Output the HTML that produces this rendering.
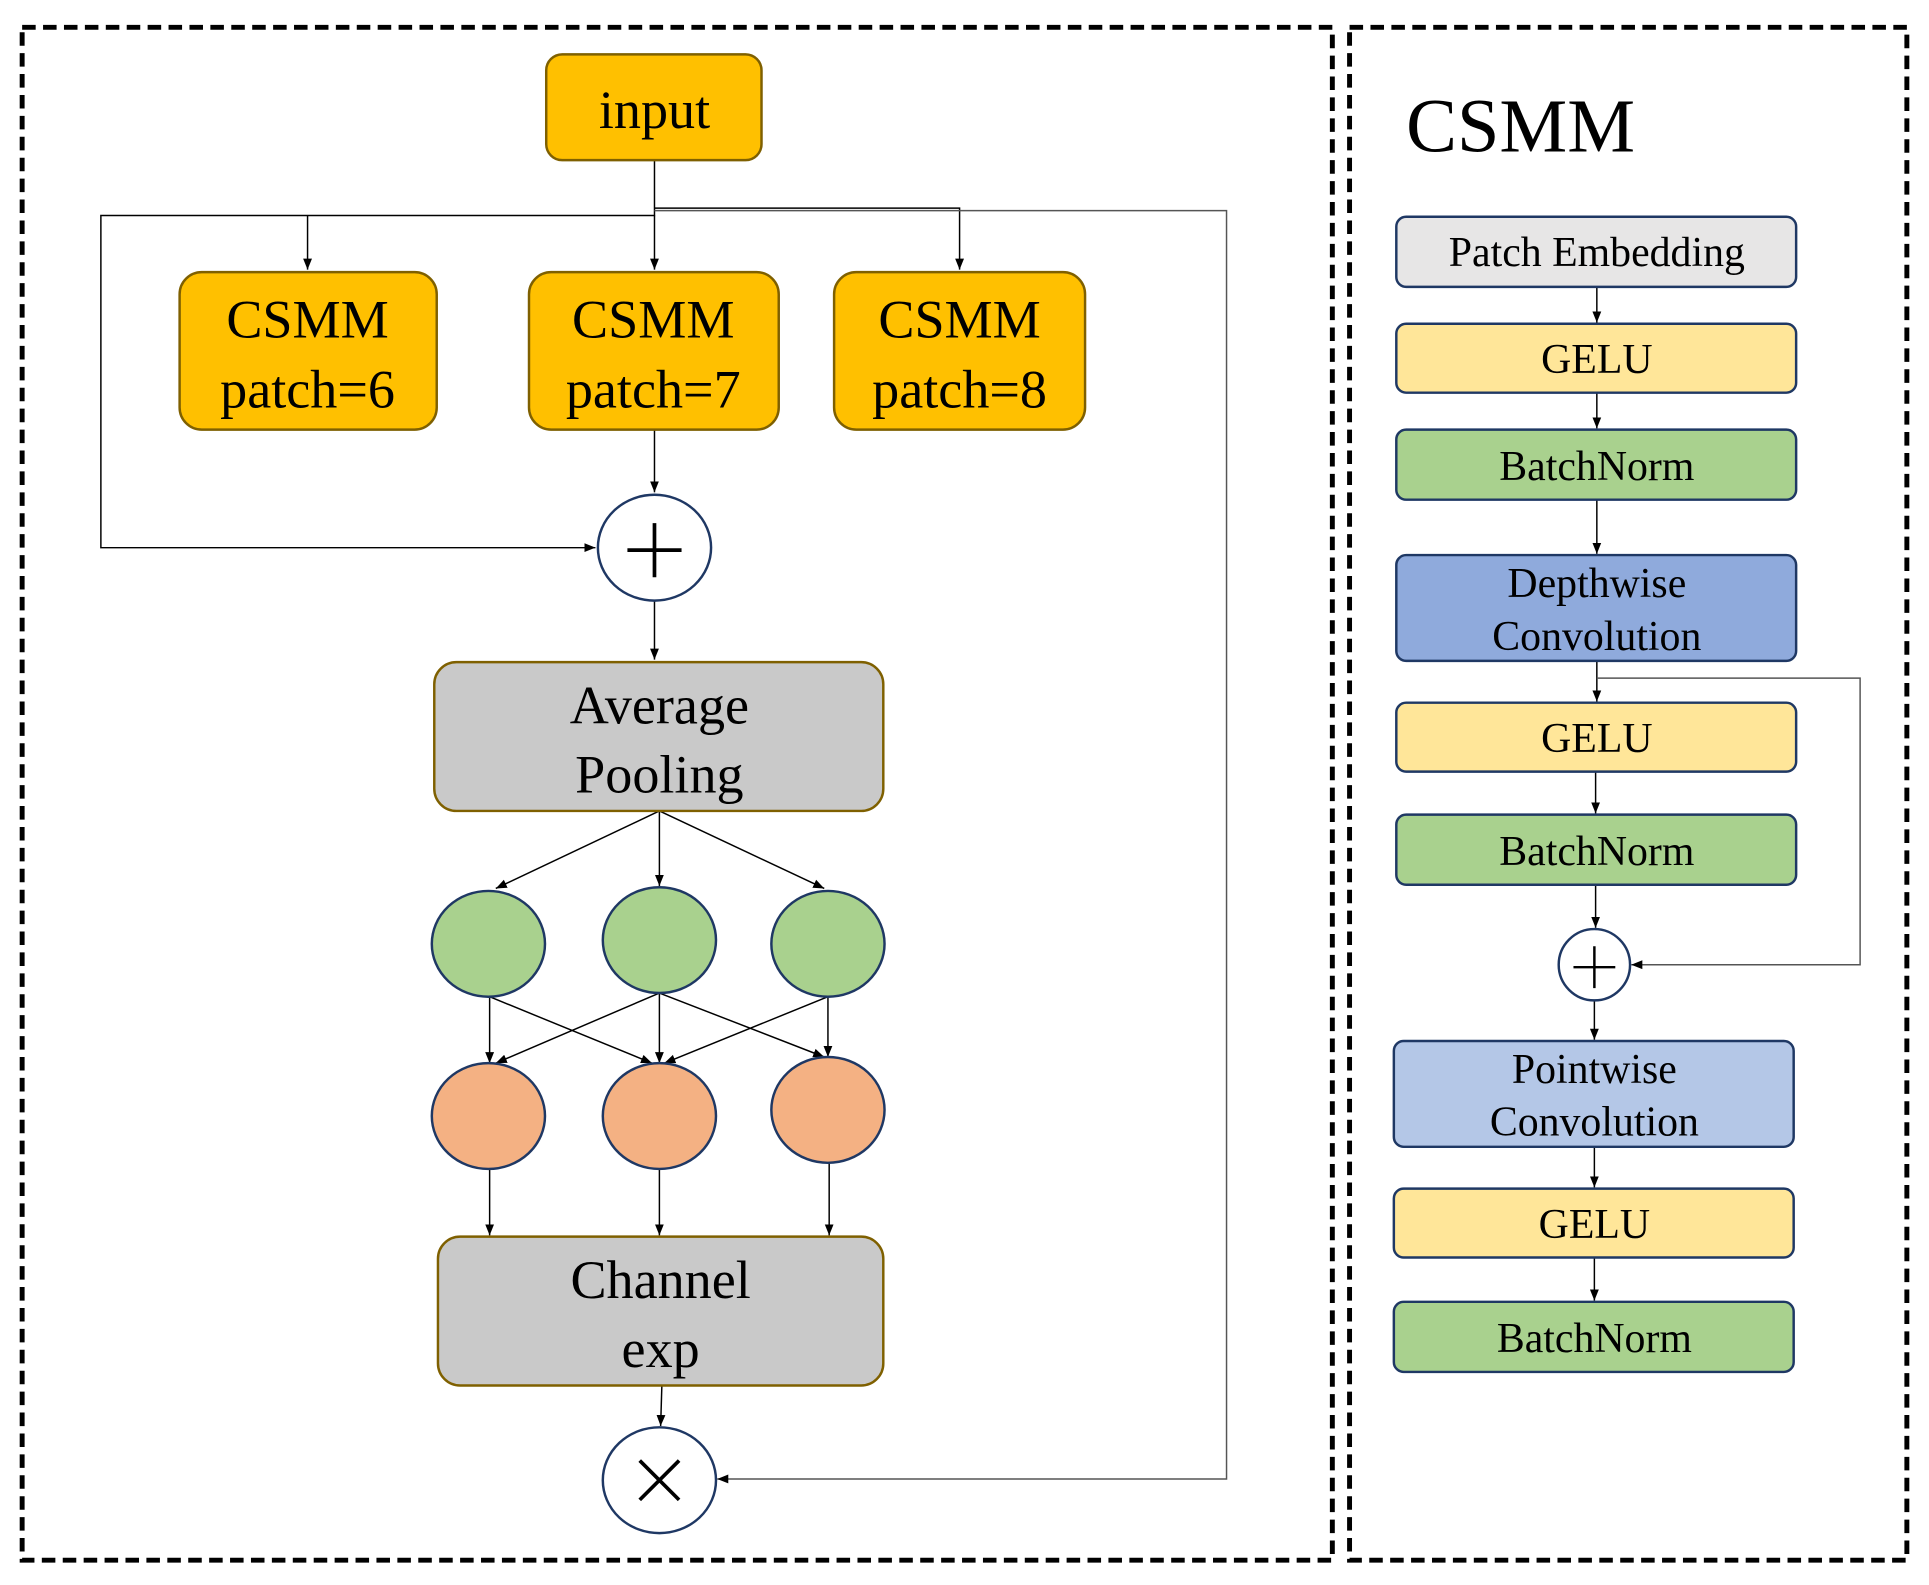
<!DOCTYPE html>
<html><head><meta charset="utf-8"><style>html,body{margin:0;padding:0;background:#fff}svg{display:block}</style></head>
<body>
<svg width="1929" height="1585" viewBox="0 0 1568 1288" xmlns="http://www.w3.org/2000/svg" font-family="'Liberation Serif', serif">
<defs>
<marker id="a" viewBox="0 0 10 10" refX="10" refY="5" markerWidth="9" markerHeight="9" orient="auto-start-reverse" markerUnits="userSpaceOnUse"><path d="M0,1 L10,5 L0,9 z" fill="#000"/></marker>
</defs>
<rect x="18" y="22" width="1065" height="1246" fill="none" stroke="#000" stroke-width="4" stroke-dasharray="11,6"/>
<rect x="1097" y="22" width="453" height="1246" fill="none" stroke="#000" stroke-width="4" stroke-dasharray="11,6"/>
<g stroke="#000" stroke-width="1.2" fill="none">
<path d="M532,130 V175 H82 V445 H484" marker-end="url(#a)"/>
<path d="M532,175 V219" marker-end="url(#a)"/>
<path d="M250,175 V219" marker-end="url(#a)"/>
<path d="M532,169 H780 V219" marker-end="url(#a)"/>
<path d="M532,171 H997 V1202 H583" stroke="#555" marker-end="url(#a)"/>
<path d="M532,349 V400" marker-end="url(#a)"/>
<path d="M532,488 V536" marker-end="url(#a)"/>
<path d="M536,659 L403,722" marker-end="url(#a)"/>
<path d="M536,659 V720" marker-end="url(#a)"/>
<path d="M536,659 L670,722" marker-end="url(#a)"/>
<path d="M398,810 V864" marker-end="url(#a)"/>
<path d="M398,810 L530,864" marker-end="url(#a)"/>
<path d="M536,807 L403,864" marker-end="url(#a)"/>
<path d="M536,807 V864" marker-end="url(#a)"/>
<path d="M536,807 L670,859" marker-end="url(#a)"/>
<path d="M673,810 L540,864" marker-end="url(#a)"/>
<path d="M673,810 V859" marker-end="url(#a)"/>
<path d="M398,950 V1004" marker-end="url(#a)"/>
<path d="M536,950 V1004" marker-end="url(#a)"/>
<path d="M674,945 V1004" marker-end="url(#a)"/>
<path d="M538,1126 L537,1159" marker-end="url(#a)"/>
<path d="M1298,233 V262" marker-end="url(#a)"/>
<path d="M1298,319 V348" marker-end="url(#a)"/>
<path d="M1298,406 V450" marker-end="url(#a)"/>
<path d="M1298,537 V570" marker-end="url(#a)"/>
<path d="M1298,551 H1512 V784 H1326" stroke="#555" marker-end="url(#a)"/>
<path d="M1297,627 V661" marker-end="url(#a)"/>
<path d="M1297,719 V754" marker-end="url(#a)"/>
<path d="M1296,813 V845" marker-end="url(#a)"/>
<path d="M1296,932 V965" marker-end="url(#a)"/>
<path d="M1296,1022 V1057" marker-end="url(#a)"/>
</g>
<g stroke="#7F6000" stroke-width="2">
<rect x="444" y="44" width="175" height="86" rx="13" fill="#FFC000"/>
<rect x="146" y="221" width="209" height="128" rx="18" fill="#FFC000"/>
<rect x="430" y="221" width="203" height="128" rx="18" fill="#FFC000"/>
<rect x="678" y="221" width="204" height="128" rx="18" fill="#FFC000"/>
<rect x="353" y="538" width="365" height="121" rx="18" fill="#C9C9C9"/>
<rect x="356" y="1005" width="362" height="121" rx="18" fill="#C9C9C9"/>
</g>
<g stroke="#1F3864" stroke-width="2">
<ellipse cx="532" cy="445" rx="46" ry="43" fill="#fff"/>
<ellipse cx="536" cy="1203" rx="46" ry="43" fill="#fff"/>
<ellipse cx="397" cy="767" rx="46" ry="43" fill="#A9D18E"/>
<ellipse cx="536" cy="764" rx="46" ry="43" fill="#A9D18E"/>
<ellipse cx="673" cy="767" rx="46" ry="43" fill="#A9D18E"/>
<ellipse cx="397" cy="907" rx="46" ry="43" fill="#F4B183"/>
<ellipse cx="536" cy="907" rx="46" ry="43" fill="#F4B183"/>
<ellipse cx="673" cy="902" rx="46" ry="43" fill="#F4B183"/>
<rect x="1135" y="176" width="325" height="57" rx="8" fill="#E7E6E6"/>
<rect x="1135" y="263" width="325" height="56" rx="8" fill="#FFE699"/>
<rect x="1135" y="349" width="325" height="57" rx="8" fill="#A9D18E"/>
<rect x="1135" y="451" width="325" height="86" rx="8" fill="#8FAADC"/>
<rect x="1135" y="571" width="325" height="56" rx="8" fill="#FFE699"/>
<rect x="1135" y="662" width="325" height="57" rx="8" fill="#A9D18E"/>
<ellipse cx="1296" cy="784" rx="29" ry="29" fill="#fff"/>
<rect x="1133" y="846" width="325" height="86" rx="8" fill="#B4C7E7"/>
<rect x="1133" y="966" width="325" height="56" rx="8" fill="#FFE699"/>
<rect x="1133" y="1058" width="325" height="57" rx="8" fill="#A9D18E"/>
</g>
<g stroke="#000" stroke-width="3">
<path d="M510,447 H554 M532,425 V469"/>
<path d="M520,1187 L552,1219 M552,1187 L520,1219"/>
<path d="M1279,786 H1313 M1296,769 V803" stroke-width="2"/>
</g>
<g fill="#000" text-anchor="middle" font-size="44">
<text x="532" y="104">input</text>
<text x="250" y="274">CSMM</text><text x="250" y="331">patch=6</text>
<text x="531" y="274">CSMM</text><text x="531" y="331">patch=7</text>
<text x="780" y="274">CSMM</text><text x="780" y="331">patch=8</text>
<text x="536" y="588">Average</text><text x="536" y="644">Pooling</text>
<text x="537" y="1055">Channel</text><text x="537" y="1111">exp</text>
</g>
<text x="1143" y="123" font-size="62" fill="#000">CSMM</text>
<g fill="#000" text-anchor="middle" font-size="34">
<text x="1298" y="216">Patch Embedding</text>
<text x="1298" y="303">GELU</text>
<text x="1298" y="390">BatchNorm</text>
<text x="1298" y="485">Depthwise</text><text x="1298" y="528">Convolution</text>
<text x="1298" y="611">GELU</text>
<text x="1298" y="703">BatchNorm</text>
<text x="1296" y="880">Pointwise</text><text x="1296" y="923">Convolution</text>
<text x="1296" y="1006">GELU</text>
<text x="1296" y="1099">BatchNorm</text>
</g>
</svg>
</body></html>
